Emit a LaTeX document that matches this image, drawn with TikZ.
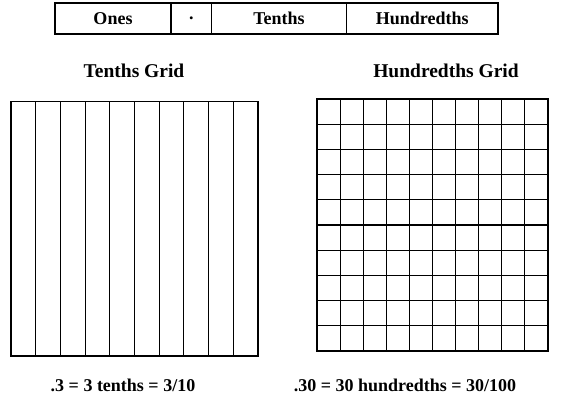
\documentclass[tikz,border=0pt]{standalone}
\usepackage{fontspec}
\setmainfont{Liberation Serif}
\begin{document}
\begin{tikzpicture}[x=1pt,y=-1pt,
  cell/.style={draw, line width=1.1pt, minimum height=31pt, inner sep=0pt, font=\bfseries\fontsize{18}{21}\selectfont},
  lbl/.style={font=\bfseries\fontsize{18}{21}\selectfont},
  title/.style={font=\bfseries\fontsize{19.5}{22}\selectfont},
  gridline/.style={line width=1.1pt}]
\useasboundingbox (0,0) rectangle (571,405);
% place value table
\node[cell, minimum width=116pt] (ones) at (113,18.5) {Ones};
\node[cell, minimum width=40.5pt] (point) at (191.25,18.5) {.};
\node[cell, minimum width=135pt] (tenths) at (279,18.5) {Tenths};
\node[cell, minimum width=151.5pt] (hundredths) at (422.25,18.5) {Hundredths};
% titles
\node[title] (ttitle) at (134,71) {Tenths Grid};
\node[title] (htitle) at (446,71) {Hundredths Grid};
% tenths grid
\draw[gridline] (11,101.5) rectangle (258,356);
\foreach \i in {1,...,9}
  \draw[gridline] (11+24.7*\i,101.5) -- (11+24.7*\i,356);
% hundredths grid
\draw[gridline] (317,99) rectangle (548,351);
\foreach \i in {1,...,9} {
  \draw[gridline] (317+23.1*\i,99) -- (317+23.1*\i,351);
  \draw[gridline] (317,99+25.2*\i) -- (548,99+25.2*\i);
}
% equalities
\node[lbl] (tsum) at (123,385) {.3 = 3 tenths = 3/10};
\node[lbl] (hsum) at (405,385) {.30 = 30 hundredths = 30/100};
\end{tikzpicture}
\end{document}
